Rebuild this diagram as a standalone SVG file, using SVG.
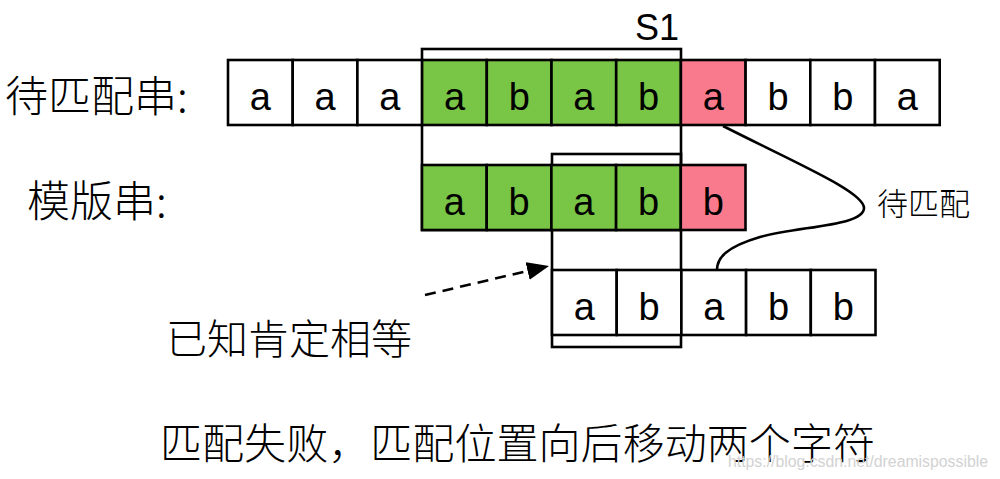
<svg xmlns="http://www.w3.org/2000/svg" width="1000" height="479" viewBox="0 0 1000 479">
<style>
.cell{stroke:#000;stroke-width:2.6}
.w{fill:#fff}.g{fill:#79C545}.p{fill:#F87A8C}
.ch{font-family:"Liberation Sans",Arial,sans-serif;font-size:38px;text-anchor:middle;fill:#000}
.cn{font-family:"Noto Sans CJK SC","Noto Sans",sans-serif;font-weight:300;fill:#000}
.br{fill:none;stroke:#000;stroke-width:2.6}
</style>
<defs>
<marker id="ah" markerUnits="userSpaceOnUse" markerWidth="22" markerHeight="18" viewBox="0 0 22 18" refX="0" refY="9" orient="auto">
<path d="M0,0 L22,9 L0,18 z" fill="#000"/>
</marker>
</defs>
<rect width="1000" height="479" fill="#fff"/>
<g id="brackets">
<rect class="br" x="422" y="49" width="259" height="181"/>
<rect class="br" x="552" y="154" width="129" height="193"/>
</g>
<g id="text-row">
<rect class="cell w" x="228" y="60" width="64.7" height="65"/>
<rect class="cell w" x="292.7" y="60" width="64.7" height="65"/>
<rect class="cell w" x="357.4" y="60" width="64.7" height="65"/>
<rect class="cell g" x="422.1" y="60" width="64.7" height="65"/>
<rect class="cell g" x="486.8" y="60" width="64.7" height="65"/>
<rect class="cell g" x="551.5" y="60" width="64.7" height="65"/>
<rect class="cell g" x="616.2" y="60" width="64.7" height="65"/>
<rect class="cell p" x="680.9" y="60" width="64.7" height="65"/>
<rect class="cell w" x="745.6" y="60" width="64.7" height="65"/>
<rect class="cell w" x="810.3" y="60" width="64.7" height="65"/>
<rect class="cell w" x="875" y="60" width="64.7" height="65"/>
<text class="ch" x="260.4" y="110">a</text>
<text class="ch" x="325.1" y="110">a</text>
<text class="ch" x="389.8" y="110">a</text>
<text class="ch" x="454.5" y="110">a</text>
<text class="ch" x="519.2" y="110">b</text>
<text class="ch" x="583.9" y="110">a</text>
<text class="ch" x="648.6" y="110">b</text>
<text class="ch" x="713.3" y="110">a</text>
<text class="ch" x="778" y="110">b</text>
<text class="ch" x="842.7" y="110">b</text>
<text class="ch" x="907.4" y="110">a</text>
</g>
<g id="pattern-row">
<rect class="cell g" x="422" y="165" width="64.7" height="65"/>
<rect class="cell g" x="486.7" y="165" width="64.7" height="65"/>
<rect class="cell g" x="551.4" y="165" width="64.7" height="65"/>
<rect class="cell g" x="616.1" y="165" width="64.7" height="65"/>
<rect class="cell p" x="680.8" y="165" width="64.7" height="65"/>
<text class="ch" x="454.4" y="215">a</text>
<text class="ch" x="519.1" y="215">b</text>
<text class="ch" x="583.8" y="215">a</text>
<text class="ch" x="648.5" y="215">b</text>
<text class="ch" x="713.2" y="215">b</text>
</g>
<g id="shifted-row">
<rect class="cell w" x="552" y="270" width="64.7" height="65"/>
<rect class="cell w" x="616.7" y="270" width="64.7" height="65"/>
<rect class="cell w" x="681.4" y="270" width="64.7" height="65"/>
<rect class="cell w" x="746.1" y="270" width="64.7" height="65"/>
<rect class="cell w" x="810.8" y="270" width="64.7" height="65"/>
<text class="ch" x="584.4" y="320">a</text>
<text class="ch" x="649.1" y="320">b</text>
<text class="ch" x="713.8" y="320">a</text>
<text class="ch" x="778.5" y="320">b</text>
<text class="ch" x="843.2" y="320">b</text>
</g>
<g id="connectors">
<path d="M723,126 C800,165 864,192 864,208 C864,226 800,226 760,237 C726,247 717,258 717,270" fill="none" stroke="#000" stroke-width="2.6"/>
<path d="M425,295 L527.6,271" fill="none" stroke="#000" stroke-width="2.6" stroke-dasharray="11,7" marker-end="url(#ah)"/>
</g>
<g id="labels">
<text x="635" y="40" font-family="Liberation Sans,Arial,sans-serif" font-size="36" fill="#000">S1</text>
<text class="cn" x="5" y="112" font-size="43">待匹配串:</text>
<text class="cn" x="27" y="217" font-size="43">模版串:</text>
<text class="cn" x="877" y="215" font-size="31">待匹配</text>
<text class="cn" x="166" y="354" font-size="41">已知肯定相等</text>
<text class="cn" x="160" y="459" font-size="42" textLength="715">匹配失败，匹配位置向后移动两个字符</text>
<text x="728" y="467" font-family="Liberation Sans,Arial,sans-serif" font-size="16" fill="#d2d2d2" textLength="260" lengthAdjust="spacingAndGlyphs">https://blog.csdn.net/dreamispossible</text>
</g>
</svg>
